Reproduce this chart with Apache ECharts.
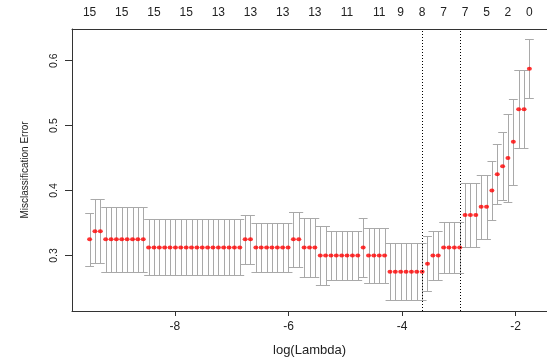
<!DOCTYPE html>
<html>
<head>
<meta charset="utf-8">
<script src="https://cdn.jsdelivr.net/npm/echarts@6/dist/echarts.min.js"></script>
<style>
html, body { margin: 0; padding: 0; background: #fff; }
#cvPlot { width: 547px; height: 362px; }
</style>
</head>
<body>
<div id="cvPlot"></div>
<script>

// log(lambda) for each fit on the path
var logLambda = [
    -9.503, -9.409, -9.314, -9.220, -9.125, -9.031, -8.936, -8.842, -8.747, -8.653,
    -8.558, -8.464, -8.369, -8.275, -8.180, -8.086, -7.991, -7.897, -7.802, -7.708,
    -7.613, -7.519, -7.424, -7.330, -7.235, -7.141, -7.046, -6.952, -6.857, -6.763,
    -6.669, -6.574, -6.480, -6.385, -6.291, -6.196, -6.102, -6.007, -5.913, -5.818,
    -5.724, -5.629, -5.535, -5.440, -5.346, -5.251, -5.157, -5.062, -4.968, -4.873,
    -4.779, -4.684, -4.590, -4.496, -4.401, -4.307, -4.212, -4.118, -4.023, -3.929,
    -3.834, -3.740, -3.645, -3.551, -3.456, -3.362, -3.267, -3.173, -3.078, -2.984,
    -2.889, -2.795, -2.700, -2.606, -2.511, -2.417, -2.322, -2.228, -2.134, -2.039,
    -1.945, -1.850, -1.756
];

// mean cv misclassification error
var cvm = [
    0.325, 0.3375, 0.3375, 0.325, 0.325, 0.325, 0.325, 0.325, 0.325, 0.325,
    0.325, 0.3125, 0.3125, 0.3125, 0.3125, 0.3125, 0.3125, 0.3125, 0.3125, 0.3125,
    0.3125, 0.3125, 0.3125, 0.3125, 0.3125, 0.3125, 0.3125, 0.3125, 0.3125, 0.325,
    0.325, 0.3125, 0.3125, 0.3125, 0.3125, 0.3125, 0.3125, 0.3125, 0.325, 0.325,
    0.3125, 0.3125, 0.3125, 0.3, 0.3, 0.3, 0.3, 0.3, 0.3, 0.3,
    0.3, 0.3125, 0.3, 0.3, 0.3, 0.3, 0.275, 0.275, 0.275, 0.275,
    0.275, 0.275, 0.275, 0.2875, 0.3, 0.3, 0.3125, 0.3125, 0.3125, 0.3125,
    0.3625, 0.3625, 0.3625, 0.375, 0.375, 0.4, 0.425, 0.4375, 0.45, 0.475,
    0.525, 0.525, 0.5875
];

// standard error (half height of each bar)
var cvsd = [
    0.041, 0.049, 0.049, 0.050, 0.050, 0.050, 0.050, 0.050, 0.050, 0.050,
    0.050, 0.043, 0.043, 0.043, 0.043, 0.043, 0.043, 0.043, 0.043, 0.043,
    0.043, 0.043, 0.043, 0.043, 0.043, 0.043, 0.043, 0.043, 0.043, 0.038,
    0.038, 0.038, 0.038, 0.038, 0.038, 0.038, 0.038, 0.038, 0.042, 0.042,
    0.046, 0.046, 0.046, 0.046, 0.046, 0.038, 0.038, 0.038, 0.038, 0.038,
    0.038, 0.045, 0.042, 0.042, 0.042, 0.042, 0.044, 0.044, 0.044, 0.044,
    0.044, 0.044, 0.044, 0.042, 0.038, 0.038, 0.039, 0.039, 0.039, 0.039,
    0.049, 0.049, 0.049, 0.049, 0.049, 0.045, 0.046, 0.052, 0.068, 0.066,
    0.060, 0.060, 0.045
];

// number of nonzero coefficients shown along the top
var nzIndex = [0, 6, 12, 18, 24, 30, 36, 42, 48, 54, 58, 62, 66, 70, 74, 78, 82];
var nzCount = [15, 15, 15, 15, 13, 13, 13, 13, 11, 11, 9, 8, 7, 7, 5, 2, 0];

var lambdaMin = -3.645;
var lambda1se = -2.984;

var xTicks = [-8, -6, -4, -2];
var yTicks = [0.3, 0.4, 0.5, 0.6];

var barData = logLambda.map(function (x, i) {
    return [x, cvm[i] - cvsd[i], cvm[i] + cvsd[i]];
});
var pointData = logLambda.map(function (x, i) {
    return [x, cvm[i]];
});
var nzValues = nzIndex.map(function (i) { return logLambda[i]; });

var capW = 0.01 * (logLambda[logLambda.length - 1] - logLambda[0]);

function crisp(v) {
    return Math.round(v) + 0.5;
}

function renderBar(params, api) {
    var x = api.value(0), lo = api.value(1), hi = api.value(2);
    var top = api.coord([x, hi]);
    var bot = api.coord([x, lo]);
    var l = api.coord([x - capW, hi])[0];
    var r = api.coord([x + capW, hi])[0];
    var style = { stroke: '#a9a9a9', lineWidth: 1 };
    var cx = crisp(top[0]), ty = crisp(top[1]), by = crisp(bot[1]);
    return {
        type: 'group',
        children: [
            { type: 'line', shape: { x1: cx, y1: ty, x2: cx, y2: by }, style: style },
            { type: 'line', shape: { x1: l, y1: ty, x2: r, y2: ty }, style: style },
            { type: 'line', shape: { x1: l, y1: by, x2: r, y2: by }, style: style }
        ]
    };
}

var textFont = 'Liberation Sans, Arial, Helvetica, sans-serif';

var cvChart = echarts.init(document.getElementById('cvPlot'));

var option = {
    animation: false,
    backgroundColor: '#fff',
    textStyle: { fontFamily: textFont },
    grid: { left: 72, top: 29, width: 478, height: 282 },
    xAxis: [
        {
            type: 'value',
            position: 'bottom',
            min: -9.813,
            max: -1.446,
            splitLine: { show: false },
            axisLine: { show: true, lineStyle: { color: '#333', width: 1 } },
            axisTick: { show: true, customValues: xTicks, length: 5, lineStyle: { color: '#333' } },
            axisLabel: {
                customValues: xTicks,
                margin: 10,
                fontSize: 12,
                color: '#222',
                fontFamily: textFont
            },
            name: 'log(Lambda)',
            nameLocation: 'middle',
            nameGap: 33,
            nameTextStyle: { fontSize: 13, color: '#222', fontFamily: textFont }
        },
        {
            type: 'value',
            position: 'top',
            min: -9.813,
            max: -1.446,
            splitLine: { show: false },
            axisLine: { show: true, onZero: false, lineStyle: { color: '#333', width: 1 } },
            axisTick: { show: false },
            axisLabel: {
                customValues: nzValues,
                margin: 10,
                fontSize: 12,
                color: '#222',
                fontFamily: textFont,
                formatter: function (v) {
                    var best = 0;
                    for (var k = 1; k < nzValues.length; k++) {
                        if (Math.abs(nzValues[k] - v) < Math.abs(nzValues[best] - v)) best = k;
                    }
                    return String(nzCount[best]);
                }
            }
        }
    ],
    yAxis: {
        type: 'value',
        min: 0.2147,
        max: 0.6486,
        splitLine: { show: false },
        axisLine: { show: true, lineStyle: { color: '#333', width: 1 } },
        axisTick: { show: true, customValues: yTicks, length: 7, lineStyle: { color: '#333' } },
        axisLabel: {
            customValues: yTicks,
            rotate: 90,
            margin: 12,
            fontSize: 10.5,
            color: '#222',
            fontFamily: textFont,
            formatter: function (v) { return v.toFixed(1); }
        },
        name: 'Misclassification Error',
        nameLocation: 'middle',
        nameGap: 42,
        nameTextStyle: { fontSize: 10, color: '#222', fontFamily: textFont }
    },
    series: [
        {
            name: 'cv error bars',
            type: 'custom',
            xAxisIndex: 0,
            renderItem: renderBar,
            encode: { x: 0, y: [1, 2] },
            data: barData,
            z: 2
        },
        {
            name: 'cv mean',
            type: 'scatter',
            xAxisIndex: 0,
            symbol: 'circle',
            symbolSize: [5, 4],
            itemStyle: { color: '#ff0000' },
            data: pointData,
            z: 3,
            markLine: {
                silent: true,
                symbol: 'none',
                label: { show: false },
                lineStyle: { color: '#000', width: 1, type: [1, 2] },
                data: [{ xAxis: lambdaMin }, { xAxis: lambda1se }]
            }
        }
    ]
};

cvChart.setOption(option);

</script>
</body>
</html>
